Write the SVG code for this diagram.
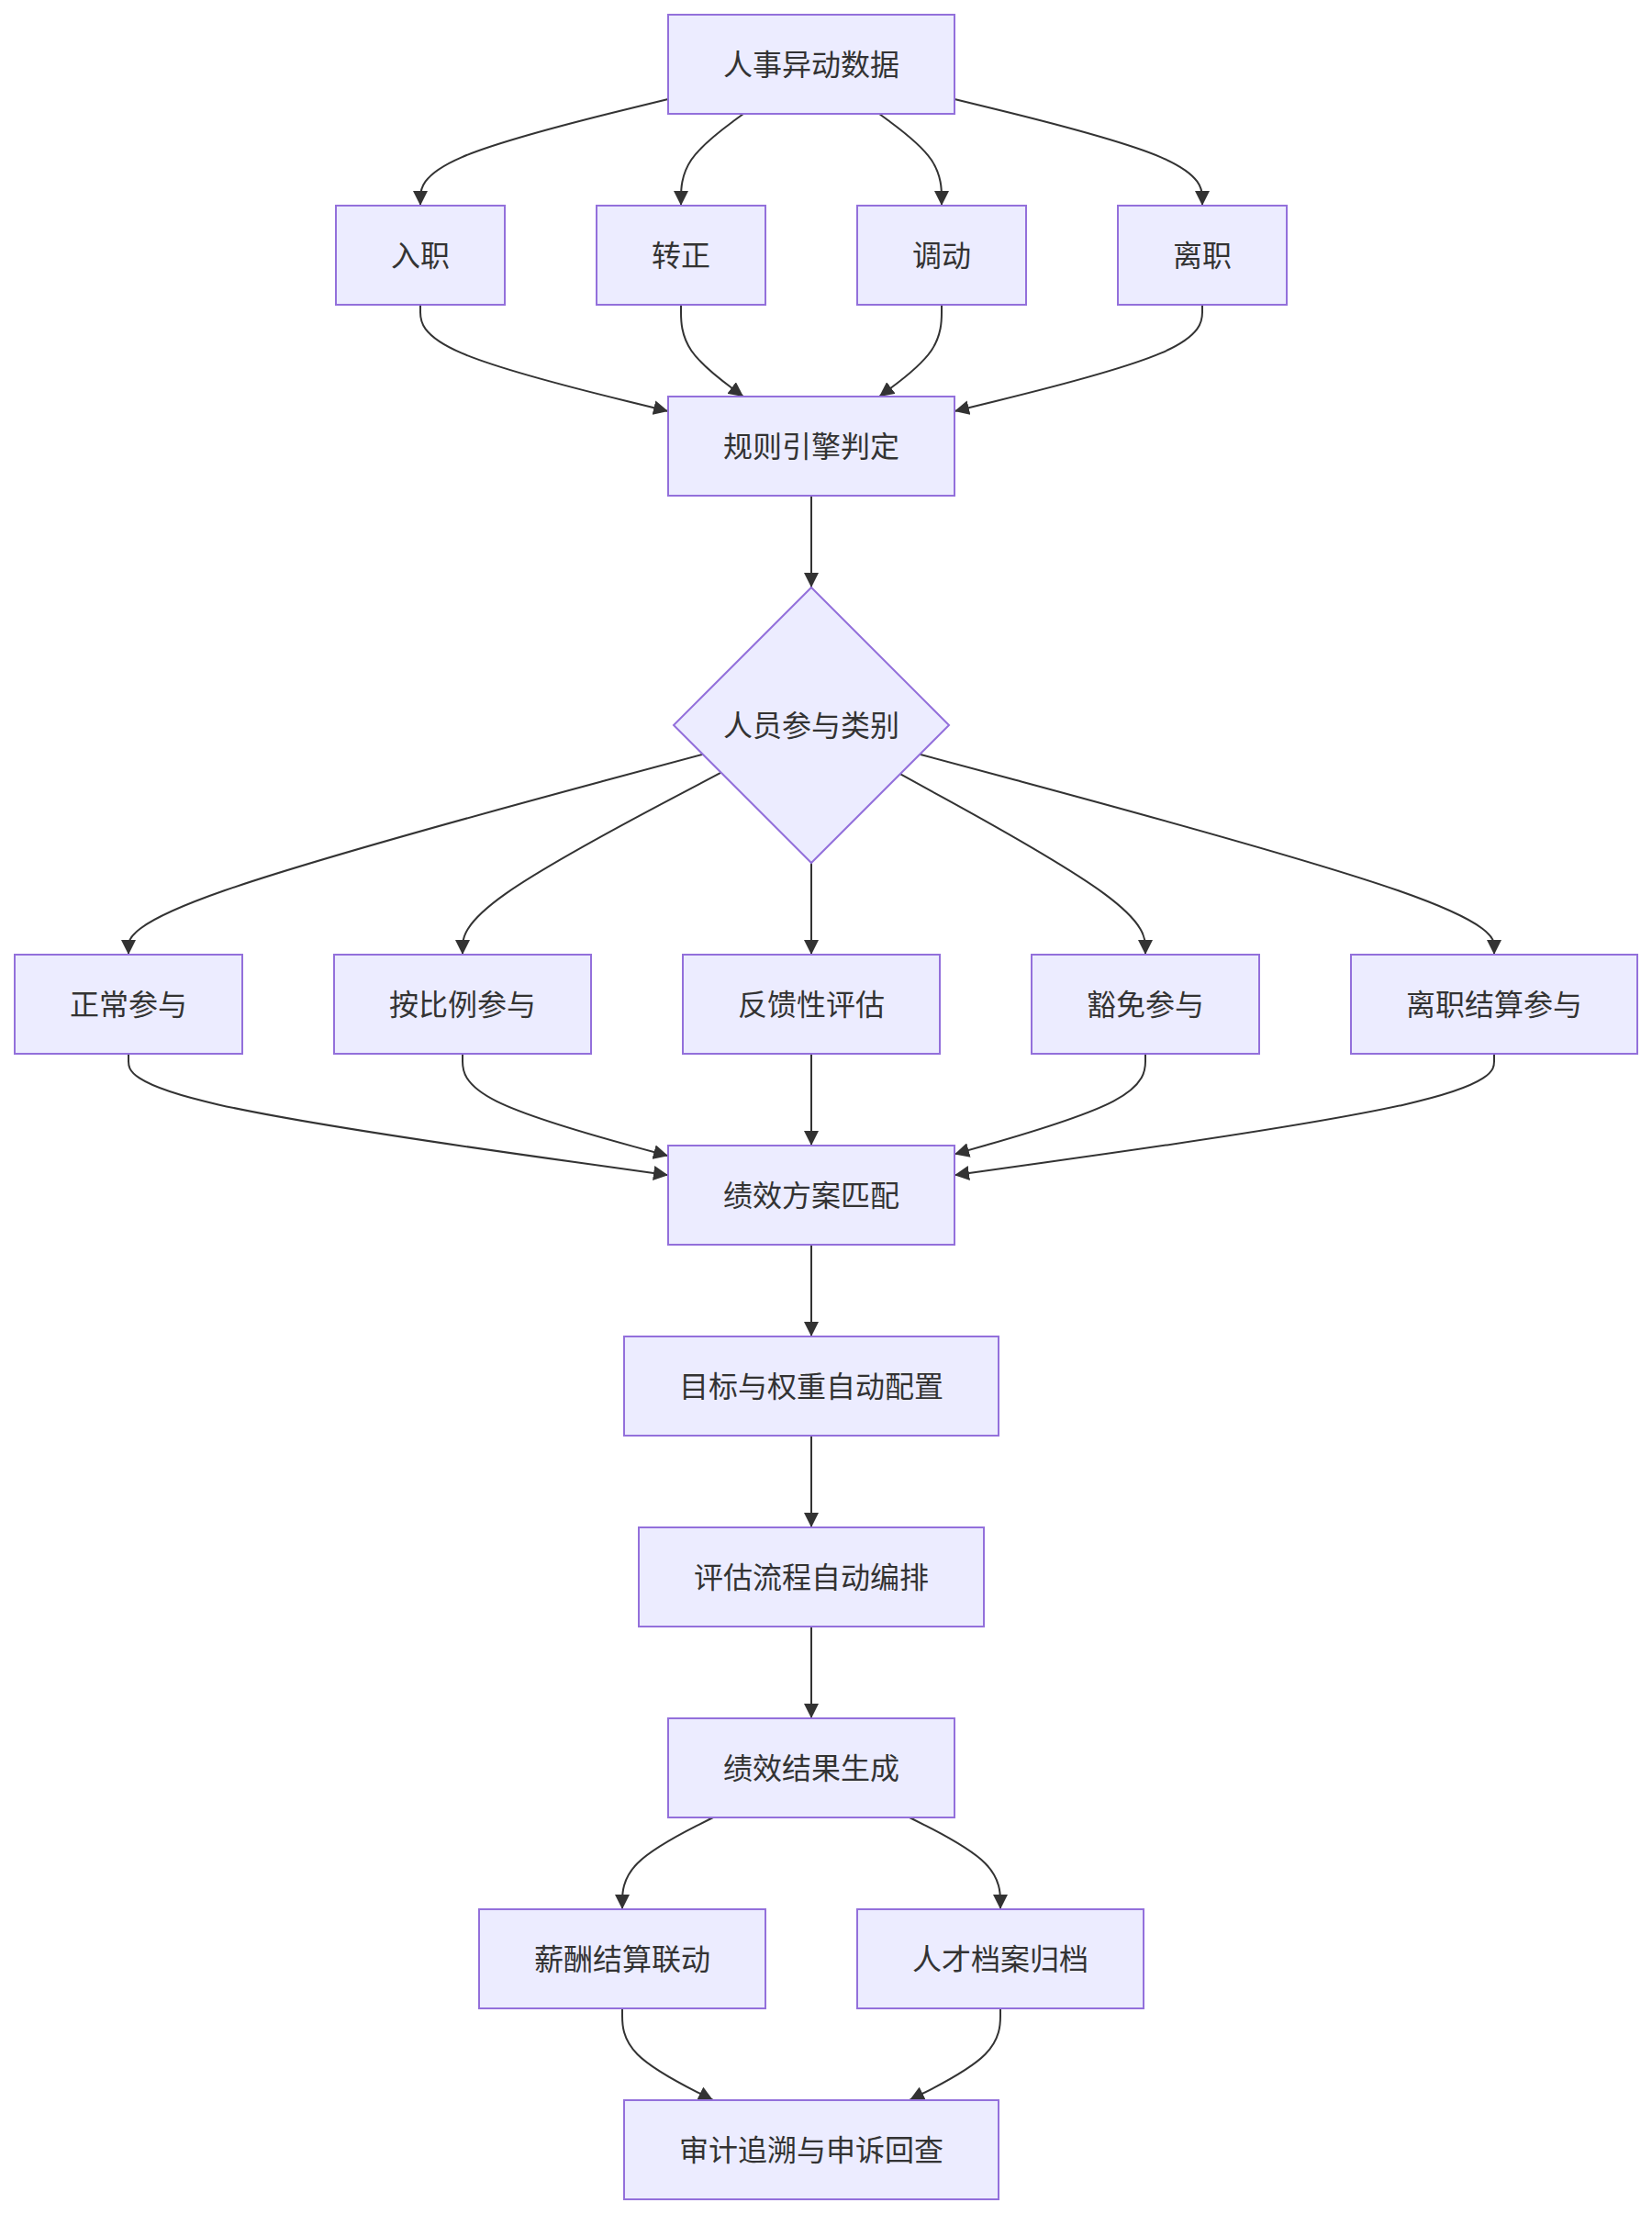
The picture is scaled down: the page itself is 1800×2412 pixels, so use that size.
<svg xmlns="http://www.w3.org/2000/svg" width="1800" height="2412" viewBox="0 0 1800 2412">
<style>
.node rect,.node polygon{fill:#ECECFF;stroke:#9370DB;stroke-width:2}
.node text{font-family:"Noto Sans CJK SC","Noto Sans",sans-serif;font-size:32px;fill:#333333;text-anchor:middle;dominant-baseline:central}
.edges path{fill:none;stroke:#333333;stroke-width:2;marker-end:url(#arrow)}
</style>
<defs>
<marker id="arrow" viewBox="0 0 10 10" refX="10" refY="5" markerUnits="userSpaceOnUse" markerWidth="16" markerHeight="16" orient="auto">
<path d="M0,0 L10,5 L0,10 z" fill="#333333"/>
</marker>
</defs>
<rect width="1800" height="2412" fill="#ffffff"/>
<g class="edges">
<path d="M728,108 L683,119 C638,130 548,152 503,171.3 C458,190.7 458,207.3 458,215.7 L458,224"/>
<path d="M810,124 L798.7,132.3 C787.3,140.7 764.7,157.3 753.3,174 C742,190.7 742,207.3 742,215.7 L742,224"/>
<path d="M958,124 L969.3,132.3 C980.7,140.7 1003.3,157.3 1014.7,174 C1026,190.7 1026,207.3 1026,215.7 L1026,224"/>
<path d="M1040,108 L1085,119 C1130,130 1220,152 1265,171.3 C1310,190.7 1310,207.3 1310,215.7 L1310,224"/>
<path d="M458,332 L458,340.3 C458,348.7 458,365.3 503,384.7 C548,404 638,426 683,437 L728,448"/>
<path d="M742,332 L742,340.3 C742,348.7 742,365.3 753.3,382 C764.7,398.7 787.3,415.3 798.7,423.7 L810,432"/>
<path d="M1026,332 L1026,340.3 C1026,348.7 1026,365.3 1014.7,382 C1003.3,398.7 980.7,415.3 969.3,423.7 L958,432"/>
<path d="M1310,332 L1310,340.3 C1310,348.7 1310,365.3 1265,384.7 C1220,404 1130,426 1085,437 L1040,448"/>
<path d="M884,540 L884,640"/>
<path d="M765.8,821.8 L661.5,849.8 C557.2,877.9 348.6,933.9 244.3,970.3 C140,1006.7 140,1023.3 140,1031.7 L140,1040"/>
<path d="M785.7,841.7 L738.8,866.4 C691.8,891.1 597.9,940.6 551,973.6 C504,1006.7 504,1023.3 504,1031.7 L504,1040"/>
<path d="M884,940 L884,1040"/>
<path d="M980.8,843.2 L1025.3,867.7 C1069.9,892.1 1158.9,941.1 1203.5,973.9 C1248,1006.7 1248,1023.3 1248,1031.7 L1248,1040"/>
<path d="M1002.2,821.8 L1106.5,849.8 C1210.8,877.9 1419.4,933.9 1523.7,970.3 C1628,1006.7 1628,1023.3 1628,1031.7 L1628,1040"/>
<path d="M140,1148 L140,1156.3 C140,1164.7 140,1181.3 238,1203.4 C336,1225.4 532,1252.9 630,1266.5 L728,1280.2"/>
<path d="M504,1148 L504,1156.3 C504,1164.7 504,1181.3 541.3,1199.9 C578.7,1218.4 653.3,1238.9 690.7,1249.1 L728,1259.3"/>
<path d="M884,1148 L884,1248"/>
<path d="M1248,1148 L1248,1156.3 C1248,1164.7 1248,1181.3 1213.3,1199.6 C1178.7,1217.8 1109.3,1237.6 1074.7,1247.5 L1040,1257.4"/>
<path d="M1628,1148 L1628,1156.3 C1628,1164.7 1628,1181.3 1530,1203.4 C1432,1225.4 1236,1252.9 1138,1266.5 L1040,1280.2"/>
<path d="M884,1356 L884,1456"/>
<path d="M884,1564 L884,1664"/>
<path d="M884,1772 L884,1872"/>
<path d="M777,1980 L760.5,1988.3 C744,1996.7 711,2013.3 694.5,2030 C678,2046.7 678,2063.3 678,2071.7 L678,2080"/>
<path d="M991,1980 L1007.5,1988.3 C1024,1996.7 1057,2013.3 1073.5,2030 C1090,2046.7 1090,2063.3 1090,2071.7 L1090,2080"/>
<path d="M678,2188 L678,2196.3 C678,2204.7 678,2221.3 694.5,2238 C711,2254.7 744,2271.3 760.5,2279.7 L777,2288"/>
<path d="M1090,2188 L1090,2196.3 C1090,2204.7 1090,2221.3 1073.5,2238 C1057,2254.7 1024,2271.3 1007.5,2279.7 L991,2288"/>
</g>
<g id="n-source" class="node"><rect x="728" y="16" width="312" height="108"/><text x="884" y="68">人事异动数据</text></g>
<g id="n-entry" class="node"><rect x="366" y="224" width="184" height="108"/><text x="458" y="276">入职</text></g>
<g id="n-regular" class="node"><rect x="650" y="224" width="184" height="108"/><text x="742" y="276">转正</text></g>
<g id="n-transfer" class="node"><rect x="934" y="224" width="184" height="108"/><text x="1026" y="276">调动</text></g>
<g id="n-leave" class="node"><rect x="1218" y="224" width="184" height="108"/><text x="1310" y="276">离职</text></g>
<g id="n-rules" class="node"><rect x="728" y="432" width="312" height="108"/><text x="884" y="484">规则引擎判定</text></g>
<g id="n-category" class="node"><polygon points="884,640 1034,790 884,940 734,790"/><text x="884" y="788">人员参与类别</text></g>
<g id="n-normal" class="node"><rect x="16" y="1040" width="248" height="108"/><text x="140" y="1092">正常参与</text></g>
<g id="n-prorata" class="node"><rect x="364" y="1040" width="280" height="108"/><text x="504" y="1092">按比例参与</text></g>
<g id="n-feedback" class="node"><rect x="744" y="1040" width="280" height="108"/><text x="884" y="1092">反馈性评估</text></g>
<g id="n-exempt" class="node"><rect x="1124" y="1040" width="248" height="108"/><text x="1248" y="1092">豁免参与</text></g>
<g id="n-settle" class="node"><rect x="1472" y="1040" width="312" height="108"/><text x="1628" y="1092">离职结算参与</text></g>
<g id="n-match" class="node"><rect x="728" y="1248" width="312" height="108"/><text x="884" y="1300">绩效方案匹配</text></g>
<g id="n-goals" class="node"><rect x="680" y="1456" width="408" height="108"/><text x="884" y="1508">目标与权重自动配置</text></g>
<g id="n-flow" class="node"><rect x="696" y="1664" width="376" height="108"/><text x="884" y="1716">评估流程自动编排</text></g>
<g id="n-result" class="node"><rect x="728" y="1872" width="312" height="108"/><text x="884" y="1924">绩效结果生成</text></g>
<g id="n-pay" class="node"><rect x="522" y="2080" width="312" height="108"/><text x="678" y="2132">薪酬结算联动</text></g>
<g id="n-archive" class="node"><rect x="934" y="2080" width="312" height="108"/><text x="1090" y="2132">人才档案归档</text></g>
<g id="n-audit" class="node"><rect x="680" y="2288" width="408" height="108"/><text x="884" y="2340">审计追溯与申诉回查</text></g>
</svg>
